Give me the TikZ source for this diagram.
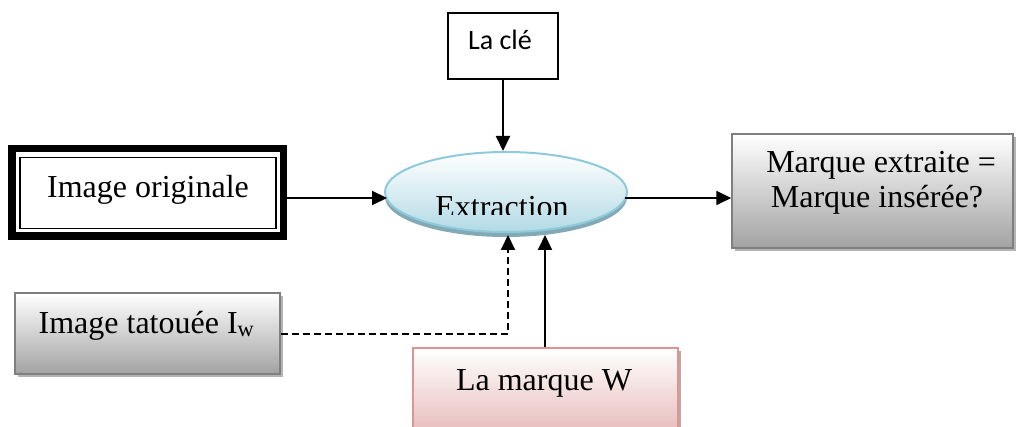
\documentclass[tikz,border=0pt]{standalone}
\usepackage{fontspec}
\setmainfont{Liberation Serif}
\newfontfamily\calibri{Carlito}
\usetikzlibrary{arrows.meta,shapes.geometric}

\definecolor{framegray}{HTML}{7F7F7F}
\definecolor{shadegray}{HTML}{A2A2A2}
\definecolor{shadowgray}{HTML}{B4B4B4}
\definecolor{pinkline}{HTML}{D99694}
\definecolor{pinkfill}{HTML}{E3B2B1}
\definecolor{pinkshadow}{HTML}{C9A3A2}
\definecolor{blueline}{HTML}{8FCADB}
\definecolor{bluefill}{HTML}{B2DAE5}
\definecolor{blueshadow}{HTML}{84A9B6}

\tikzset{
  plainbox/.style={draw=black, line width=1.5pt, fill=white, inner sep=0pt},
  graybox/.style={draw=framegray, line width=1.5pt, inner sep=0pt,
    top color=white, bottom color=shadegray,
    preaction={fill=shadowgray, transform canvas={shift={(3pt,-3pt)}}}},
  pinkbox/.style={draw=pinkline, line width=1.5pt, inner sep=0pt,
    top color=white, bottom color=pinkfill,
    preaction={fill=pinkshadow, transform canvas={shift={(3pt,-3pt)}}}},
  extrshape/.style={ellipse, draw=blueline, line width=2pt, inner sep=0pt,
    top color=white, bottom color=bluefill,
    preaction={fill=blueshadow, transform canvas={shift={(0pt,-5pt)}}}},
  arr/.style={line width=2pt, -{Triangle[length=15pt,width=14pt]}},
  dasharr/.style={arr, dash pattern=on 7pt off 4pt},
  serif/.style={font=\fontsize{32}{36}\selectfont, inner sep=0pt, anchor=base},
}

\begin{document}
\begin{tikzpicture}[x=1pt,y=-1pt]
  \clip (0,0) rectangle (1019,427);
  \fill[white] (0,0) rectangle (1019,427);

  % key box
  \node[plainbox, minimum width=110, minimum height=66] (cle) at (503,46) {};
  \node[font=\calibri\fontsize{28}{32}\selectfont, inner sep=0pt, anchor=base] (cletxt) at (500,50) {La clé};

  % original image: thick outer frame with a thin inner line
  \node[draw=black, line width=7.5pt, fill=white, inner sep=0pt,
        minimum width=271.5, minimum height=87.5] (orig) at (147.5,192.5) {};
  \draw[line width=1.5pt] (20,157.5) rectangle (276,228.5);
  \node[serif] (origtxt) at (148,198) {Image originale};

  % extraction ellipse, text cut at the bottom of its text area
  \node[extrshape, minimum width=242, minimum height=80] (extr) at (506,192) {};
  \begin{scope}
    \clip (380,150) rectangle (632,215);
    \node[serif] (extrtxt) at (502,218) {Extraction};
  \end{scope}

  % result box
  \node[graybox, minimum width=281, minimum height=114] (res) at (872.5,191) {};
  \node[serif] (restxt1) at (881,173) {Marque extraite =};
  \node[serif] (restxt2) at (877,208) {Marque insérée?};

  % watermarked image
  \node[graybox, minimum width=265, minimum height=81] (tat) at (147.5,333.5) {};
  \node[serif] (tattxt) at (146.5,333) {Image tatouée I\textsubscript{w}};

  % mark W
  \node[pinkbox, minimum width=265, minimum height=97] (marq) at (545.5,396.5) {};
  \node[serif] (marqtxt) at (544,390) {La marque W};

  % connectors
  \coordinate (inL) at (387,198);
  \coordinate (outR) at (625,198);
  \coordinate (inA) at (508,235);
  \coordinate (inB) at (545,235);
  \draw[arr] (cle.south) -- (cle.south |- extr.north);
  \draw[arr] (inL -| orig.east) -- (inL);
  \draw[arr] (outR) -- (outR -| res.west);
  \draw[dasharr] (tat.east) -| (inA);
  \draw[arr] (marq.north -| inB) -- (inB);
\end{tikzpicture}
\end{document}
